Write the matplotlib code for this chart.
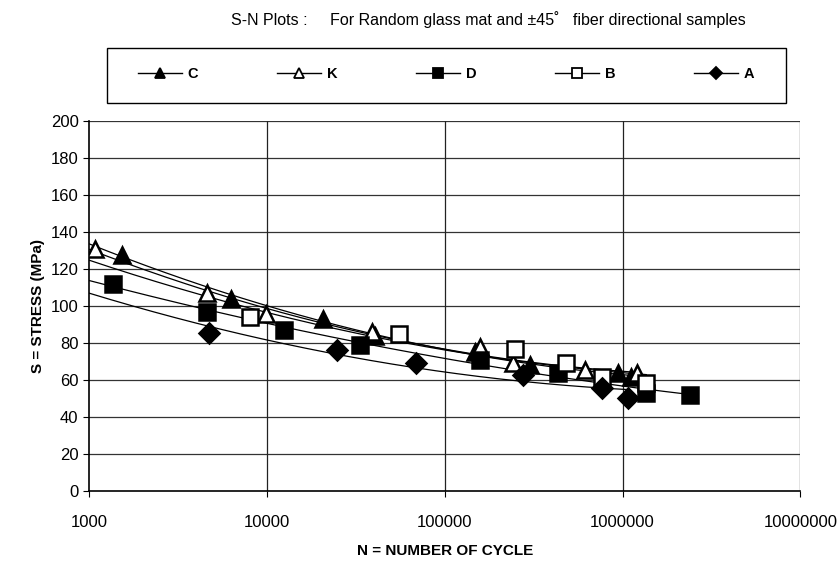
#!/usr/bin/env python3

import numpy as np
import matplotlib
matplotlib.use("Agg")
import matplotlib.pyplot as plt
from matplotlib.patches import Rectangle
from matplotlib.ticker import FixedLocator, NullLocator

plt.rcParams['font.family'] = ['Liberation Sans', 'DejaVu Sans']

# data (N = cycles, S = stress MPa)
c_n = [1530, 6280, 20650, 40500, 147600, 300000, 937000, 1120000]
c_s = [127.6, 103.8, 93, 84, 75, 68, 63.8, 61.6]

k_n = [1080, 4600, 9870, 38900, 157000, 241000, 612000, 1200000]
k_s = [131, 107, 95.7, 86, 78, 69, 65.4, 63.8]

d_n = [1364, 4600, 12470, 33300, 157000, 431000, 1360000, 2410000]
d_s = [112, 96.8, 87, 79, 70.8, 63.8, 53, 52]

b_n = [8020, 55200, 247000, 479000, 762000, 1360000]
b_s = [94, 85, 76.8, 69, 61.6, 58.4]

a_n = [4720, 24700, 68700, 274000, 762000, 1070000]
a_s = [85.4, 76, 69, 62.7, 55.7, 50.3]

xticks = [1000, 10000, 100000, 1000000, 10000000]
xtick_labels = ['1000', '10000', '100000', '1000000', '10000000']
yticks = [0, 20, 40, 60, 80, 100, 120, 140, 160, 180, 200]

series = [
    ('C', c_n, c_s, '^', 'black'),
    ('K', k_n, k_s, '^', 'white'),
    ('D', d_n, d_s, 's', 'black'),
    ('B', b_n, b_s, 's', 'white'),
    ('A', a_n, a_s, 'D', 'black'),
]

# trendlines, quadratic in u = log10 N, drawn back to N = 1000
# C, K, D have low-cycle data: own fit. B, A start later: use the mean curvature of C, K, D
fits = [np.polyfit(np.log10(n), s, 2) for _, n, s, _, _ in series[:3]]
curv = np.mean([p[0] for p in fits])
for _, n, s, _, _ in series[3:]:
    u = np.log10(n)
    b1, b0 = np.polyfit(u, np.array(s) - curv * u ** 2, 1)
    fits.append(np.array([curv, b1, b0]))

fig = plt.figure(figsize=(8.39, 5.66), dpi=100)
ax = fig.add_axes([0.106, 0.1325, 0.848, 0.654])

ax.set_xscale('log')
ax.set_xlim(1000, 10000000)
ax.set_ylim(0, 200)

for y in yticks[1:]:
    ax.axhline(y, color='#333333', lw=0.9, zorder=1)
for x in xticks[1:]:
    ax.axvline(x, color='#222222', lw=0.9, zorder=1)

handles = []
for (name, n, s, mk, fc), p in zip(series, fits):
    lx = np.linspace(3, np.log10(max(n)), 200)
    ax.plot(10 ** lx, np.polyval(p, lx), color='black', lw=0.9, zorder=2)
    ax.plot(n, s, linestyle='none', marker=mk, ms=11 if mk != 'D' else 10,
            mfc=fc, mec='black', mew=1.8, zorder=3)
    h, = ax.plot([], [], color='black', lw=1, marker=mk, ms=7 if mk != 'D' else 6.5,
                 mfc=fc, mec='black', mew=1.3)
    handles.append((h, name))

ax.xaxis.set_major_locator(FixedLocator(xticks))
ax.xaxis.set_minor_locator(NullLocator())
ax.set_xticklabels(xtick_labels)
ax.set_yticks(yticks)
ax.tick_params(axis='both', labelsize=12, direction='out', length=4, color='black')
ax.tick_params(axis='x', pad=13)
for sp in ['top', 'right']:
    ax.spines[sp].set_visible(False)
for sp in ['left', 'bottom']:
    ax.spines[sp].set_linewidth(1.2)

ax.set_xlabel('N = NUMBER OF CYCLE', fontsize=11, fontweight='bold', labelpad=10)
ax.set_ylabel('S = STRESS (MPa)', fontsize=11, fontweight='bold', labelpad=4)

fig.text(0.582, 0.966, 'S-N Plots :     For Random glass mat and \u00b145\u02da   fiber directional samples',
         ha='center', va='center', fontsize=11.5)

# legend box
fig.patches.append(Rectangle((107 / 839, 1 - 103 / 566), 679 / 839, 55 / 566,
                             transform=fig.transFigure, fill=False,
                             edgecolor='black', lw=1.0))
leg = fig.legend([h for h, _ in handles], [nm for _, nm in handles],
                 loc='center', bbox_to_anchor=(0.5318, 0.8693), ncol=5,
                 frameon=False, prop={'weight': 'bold', 'size': 10.5},
                 handlelength=3.0, columnspacing=5.4, handletextpad=0.4,
                 borderpad=0, borderaxespad=0)

fig.savefig('out.png', dpi=100)
